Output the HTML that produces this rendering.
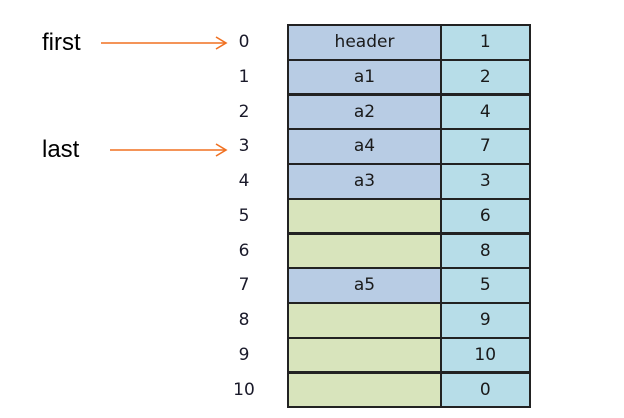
<!DOCTYPE html>
<html><head><meta charset="utf-8"><style>
body{margin:0;width:624px;height:418px;background:#fff;position:relative;overflow:hidden;font-family:"DejaVu Sans","Liberation Sans",sans-serif}
.l{position:absolute;font-family:"Liberation Sans",sans-serif;font-size:24px;color:#000}
.idx{position:absolute;width:40px;text-align:center;font-size:17px;color:#1a1a2a;left:224px}
.c{position:absolute;box-sizing:border-box;border:2px solid #222;text-align:center;font-size:17px;color:#1a1a1a}
</style></head><body>
<div class="l" style="left:42px;top:29px">first</div>
<div class="l" style="left:42px;top:136px">last</div>
<svg style="position:absolute;left:0;top:0" width="624" height="418">
<g stroke="#f07020" stroke-width="1.6" fill="none">
<line x1="101" y1="43" x2="226" y2="43"/><polyline points="216,37 226,43 216,49"/>
<line x1="110" y1="150" x2="226" y2="150"/><polyline points="216,144 226,150 216,156"/>
</g></svg>
<div id="g"></div>
<script>
var L=['header','a1','a2','a4','a3','','','a5','','',''],R=[1,2,4,7,3,6,8,5,9,10,0],B=[1,1,1,1,1,0,0,1,0,0,0],h='';
for(var i=0;i<11;i++){var t=24+i*34.75;
h+='<div class="idx" style="top:'+(t+8)+'px">'+i+'</div>';
h+='<div class="c" style="left:287px;top:'+t+'px;width:155px;height:36.5px;line-height:33px;background:'+(B[i]?'#b8cce4':'#d8e4bc')+'">'+L[i]+'</div>';
h+='<div class="c" style="left:440px;top:'+t+'px;width:90.5px;height:36.5px;line-height:33px;background:#b7dde8">'+R[i]+'</div>';}
document.getElementById('g').innerHTML=h;
</script>
</body></html>
